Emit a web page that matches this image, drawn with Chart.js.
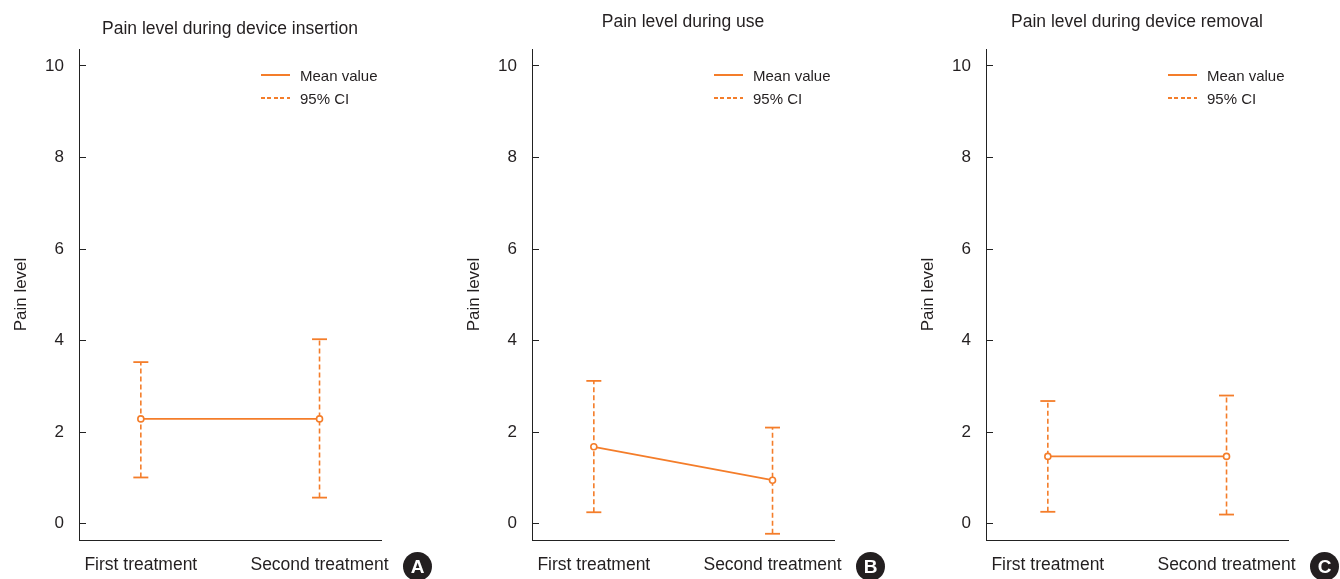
<!DOCTYPE html>
<html>
<head>
<meta charset="utf-8">
<script src="https://cdn.jsdelivr.net/npm/chart.js@4.4.1/dist/chart.umd.min.js"></script>
<style>
  html, body { margin: 0; padding: 0; background: #fff; width: 1340px; height: 579px; overflow: hidden; }
  body { position: relative; font-family: 'Liberation Sans', Arial, sans-serif; color: #231f20; }
  .panel { position: absolute; top: 0; width: 440px; height: 579px; }
  .panel canvas { position: absolute; left: 0; top: 0; }
  .legend { position: absolute; left: 261px; top: 63.5px; font-size: 15px; line-height: 23px; }
  .legend .row { display: flex; align-items: center; height: 23px; white-space: nowrap; }
  .legend .sw { width: 29px; margin-right: 10px; }
  .badge { position: absolute; left: 403px; top: 552px; width: 29px; height: 29px; border-radius: 50%; background: #231f20; color: #fff; font-family: 'Liberation Sans', Arial, sans-serif; font-weight: bold; font-size: 19px; line-height: 29px; text-align: center; }
</style>
</head>
<body>
<div class="panel" id="p0" style="left:0px"><canvas id="c0" width="440" height="579"></canvas></div>
<div class="panel" id="p1" style="left:453px"><canvas id="c1" width="440" height="579"></canvas></div>
<div class="panel" id="p2" style="left:907px"><canvas id="c2" width="440" height="579"></canvas></div>
<script>
// ---- data ----
const categories = ['First treatment', 'Second treatment'];
const yTicks = [0, 2, 4, 6, 8, 10];
const panelTitles = ['Pain level during device insertion', 'Pain level during use', 'Pain level during device removal'];
const panelLetters = ['A', 'B', 'C'];
const yAxisTitle = 'Pain level';
const legendLabels = ['Mean value', '95% CI'];

const insertionMean  = [2.29, 2.29];
const insertionLower = [1.01, 0.57];
const insertionUpper = [3.53, 4.03];

const useMean  = [1.68, 0.95];
const useLower = [0.25, -0.22];
const useUpper = [3.12, 2.10];

const removalMean  = [1.47, 1.47];
const removalLower = [0.26, 0.20];
const removalUpper = [2.68, 2.80];

// ---- styling ----
const ORANGE = '#f47d2a';
const AXIS = '#222222';
const TEXT = '#231f20';
const FONT = "'Liberation Sans', Arial, sans-serif";
Chart.defaults.font.family = FONT;
Chart.defaults.color = TEXT;

const panels = [
  { mean: insertionMean, lower: insertionLower, upper: insertionUpper, titleTop: 18.5 },
  { mean: useMean, lower: useLower, upper: useUpper, titleTop: 11.5 },
  { mean: removalMean, lower: removalLower, upper: removalUpper, titleTop: 11.5 }
];

panels.forEach((p, idx) => {
  const datasets = [{
    label: legendLabels[0],
    data: categories.map((c, i) => ({ x: i, y: p.mean[i] })),
    borderColor: ORANGE,
    borderWidth: 1.8,
    pointRadius: 3,
    pointBorderWidth: 1.6,
    pointBackgroundColor: '#ffffff',
    pointBorderColor: ORANGE,
    order: 0
  }];
  categories.forEach((c, i) => {
    datasets.push({
      label: legendLabels[1],
      data: [{ x: i, y: p.lower[i] }, { x: i, y: p.upper[i] }],
      borderColor: ORANGE,
      borderWidth: 1.6,
      borderDash: [5, 3],
      pointStyle: 'line',
      pointRadius: 7.5,
      pointBorderWidth: 1.8,
      pointBorderColor: ORANGE,
      order: 1
    });
  });

  new Chart(document.getElementById('c' + idx), {
    type: 'line',
    data: { datasets },
    options: {
      responsive: false,
      animation: false,
      devicePixelRatio: 1,
      events: [],
      layout: { padding: { left: 0, right: 59, top: 0, bottom: 0 } },
      plugins: {
        legend: { display: false },
        tooltip: { enabled: false },
        title: {
          display: true,
          text: panelTitles[idx],
          fullSize: false,
          color: TEXT,
          font: { size: 17.5, weight: 'normal', lineHeight: 1.2 },
          padding: { top: p.titleTop, bottom: 49 - 21 - p.titleTop }
        }
      },
      scales: {
        x: {
          type: 'linear',
          min: -0.346,
          max: 1.344,
          afterBuildTicks: (s) => { s.ticks = categories.map((c, i) => ({ value: i })); },
          afterFit: (s) => { s.height = 39; },
          ticks: {
            callback: (v) => categories[v],
            font: { size: 17.5 },
            color: TEXT,
            padding: 14.5,
            maxRotation: 0,
            autoSkip: false
          },
          grid: { display: false, drawTicks: false },
          border: { display: true, color: AXIS, width: 1 }
        },
        y: {
          type: 'linear',
          min: -0.356,
          max: 10.37,
          afterBuildTicks: (s) => { s.ticks = yTicks.map(v => ({ value: v })); },
          afterFit: (s) => { s.width = 79; },
          ticks: { font: { size: 17 }, color: TEXT, padding: 22 },
          grid: { display: true, drawOnChartArea: false, drawTicks: true, tickLength: -7, color: AXIS, lineWidth: 1 },
          border: { display: true, color: AXIS, width: 1 },
          title: { display: true, text: yAxisTitle, font: { size: 17 }, color: TEXT, padding: { top: 11, bottom: 0 } }
        }
      }
    }
  });

  // HTML legend and panel badge (real text)
  const panel = document.getElementById('p' + idx);
  const leg = document.createElement('div');
  leg.className = 'legend';
  legendLabels.forEach((lab, k) => {
    const row = document.createElement('div');
    row.className = 'row';
    const sw = document.createElement('span');
    sw.className = 'sw';
    if (k === 0) {
      sw.style.height = '2px';
      sw.style.background = ORANGE;
    } else {
      sw.style.height = '1.5px';
      sw.style.background = 'repeating-linear-gradient(to right, ' + ORANGE + ' 0px, ' + ORANGE + ' 4px, transparent 4px, transparent 6.5px)';
    }
    const tx = document.createElement('span');
    tx.textContent = lab;
    row.appendChild(sw); row.appendChild(tx);
    leg.appendChild(row);
  });
  panel.appendChild(leg);
  const b = document.createElement('div');
  b.className = 'badge';
  b.textContent = panelLetters[idx];
  panel.appendChild(b);
});
</script>
</body>
</html>
